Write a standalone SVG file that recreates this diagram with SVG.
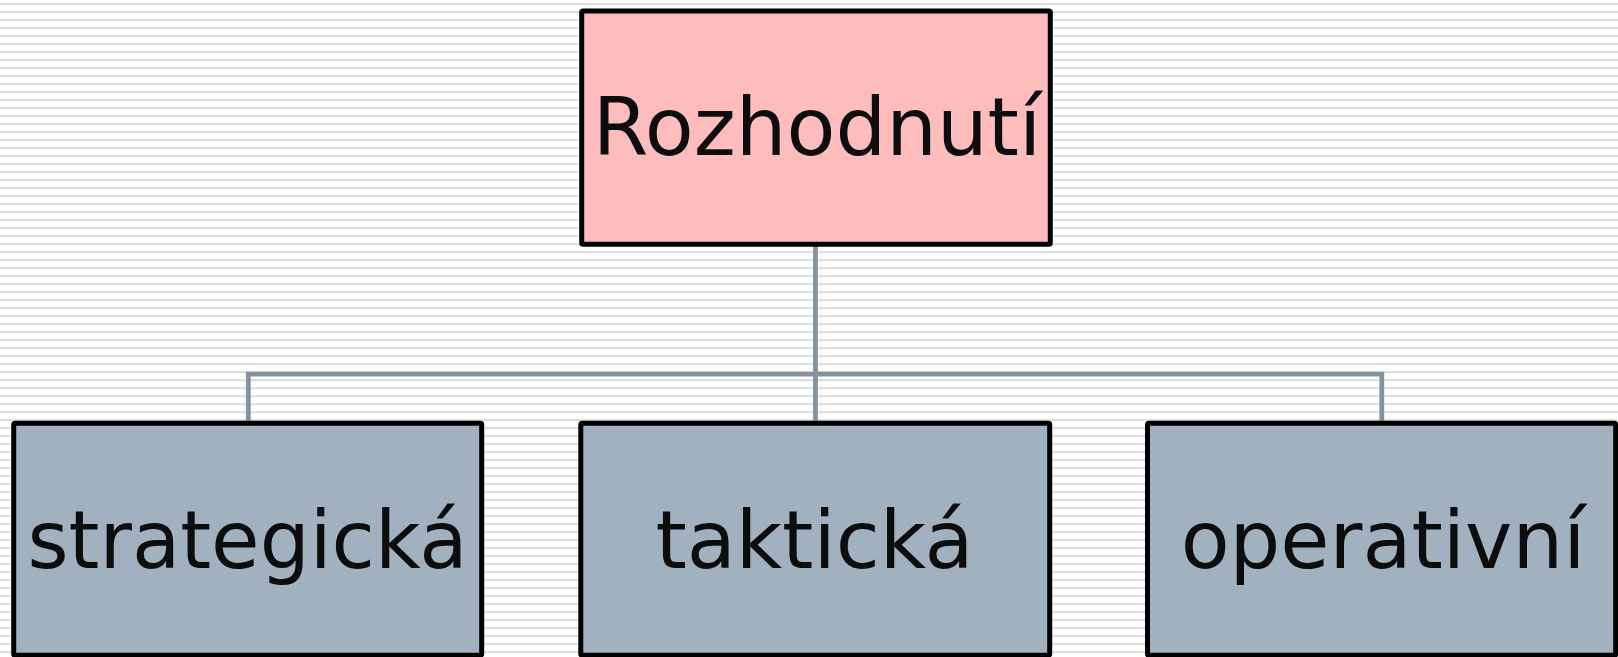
<svg xmlns="http://www.w3.org/2000/svg" width="1618" height="657" viewBox="0 0 1618 657">
  <defs>
    <pattern id="stripes" x="0" y="0" width="8" height="8" patternUnits="userSpaceOnUse">
      <rect x="0" y="3.3" width="8" height="1.8" fill="#d9d9d9"/>
    </pattern>
  </defs>
  <style>
    .box { stroke: #000; stroke-width: 5; stroke-linejoin: round; }
    .top { fill: #ffbcbc; }
    .child { fill: #a2b1c0; }
    .lbl { font-family: "DejaVu Sans", Verdana, sans-serif; font-size: 80px; fill: #0d0d0d; text-anchor: middle; }
    .conn { stroke: #8492a0; stroke-width: 4.8; fill: none; }
  </style>
  <rect x="0" y="0" width="1618" height="657" fill="#fff"/>
  <rect x="0" y="0" width="1618" height="657" fill="url(#stripes)"/>
  <g id="connectors">
    <path class="conn" d="M815.5,244 V374.2"/>
    <path class="conn" d="M248.3,421 V374.2 H1381.8 V421"/>
    <path class="conn" d="M815.5,374.2 V421"/>
  </g>
  <g id="node-rozhodnuti">
    <rect class="box top" x="581.7" y="11" width="468.6" height="233.3" rx="1.5"/>
    <text class="lbl" x="817" y="155">Rozhodnutí</text>
  </g>
  <g id="node-strategicka">
    <rect class="box child" x="13.7" y="423.3" width="468" height="232" rx="1.5"/>
    <text class="lbl" x="247.5" y="568.3" textLength="440" lengthAdjust="spacingAndGlyphs">strategická</text>
  </g>
  <g id="node-takticka">
    <rect class="box child" x="580.8" y="423.3" width="468.9" height="232" rx="1.5"/>
    <text class="lbl" x="814.5" y="568.3">taktická</text>
  </g>
  <g id="node-operativni">
    <rect class="box child" x="1147.5" y="423.3" width="468.2" height="232" rx="1.5"/>
    <text class="lbl" x="1383" y="568.3">operativní</text>
  </g>
</svg>
